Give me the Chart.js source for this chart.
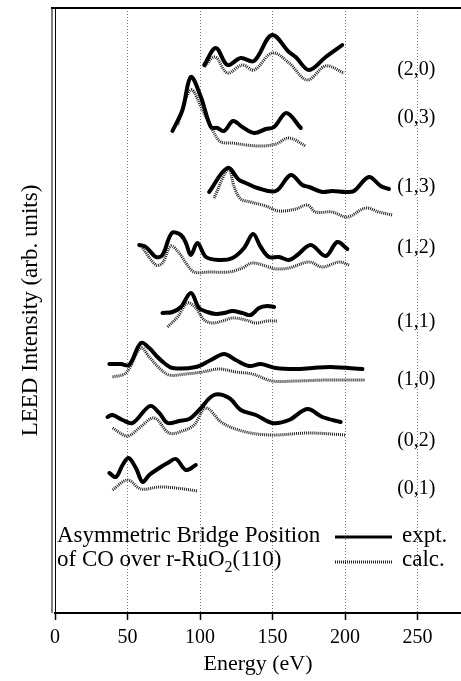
<!DOCTYPE html>
<html>
<head>
<meta charset="utf-8">
<script src="https://cdn.jsdelivr.net/npm/chart.js@4.4.0/dist/chart.umd.min.js"></script>
<style>
  html, body { margin: 0; padding: 0; background: #fff; }
</style>
</head>
<body>
<canvas id="leedChart" width="461" height="681"></canvas>
<script>
// LEED I(V) curves, energy in eV, intensity in arb. units (curves already stacked)
const beams = ["(2,0)", "(0,3)", "(1,3)", "(1,2)", "(1,1)", "(1,0)", "(0,2)", "(0,1)"];
const energyTicks = [0, 50, 100, 150, 200, 250];

const expt20 = [[102.9,548],[110.9,565],[118.9,548],[128.1,555],[137.3,552],[149.5,578],[161.4,561],[166.0,556],[175.2,543],[186.7,556],[198.1,568]];
const calc20 = [[102.9,546],[110.4,556],[118.9,540],[129.2,548],[137.3,543],[149.9,560],[161.4,550],[174.0,533],[186.7,547],[199.3,540]];

const expt03 = [[81.0,482],[87.9,503],[93.7,536],[100.6,516],[107.5,486],[112.0,485],[116.6,482],[122.8,492],[129.2,486],[137.3,480],[145.4,484],[151.1,486],[159.6,500],[169.5,485]];
const calc03 = [[84.5,488],[93.7,523],[101.7,503],[109.7,480],[114.4,471],[122.4,470],[131.6,468],[143.0,467],[152.3,469],[161.4,475],[172.9,467]];

const expt13 = [[106.3,421],[118.9,445],[127.0,433],[131.6,430],[139.6,425],[152.3,422],[162.6,438],[170.6,428],[175.2,426],[184.4,421],[191.2,422],[200.5,421],[206.2,422],[216.5,436],[224.6,427],[230.3,424]];
const calc13 = [[109.7,415],[119.6,444],[123.6,426],[128.1,414],[135.0,411],[145.4,407],[154.5,402],[166.0,404],[174.0,408],[179.8,401],[191.2,401],[201.6,396],[214.3,405],[223.4,401],[232.6,398]];

const expt12 = [[58.1,368],[62.7,366],[69.6,356],[74.1,358],[80.6,380],[86.8,378],[90.3,370],[93.7,358],[98.2,370],[104.1,356],[113.2,353],[122.4,355],[130.4,365],[136.6,379],[141.9,366],[147.6,356],[154.5,356],[161.4,353],[167.1,358],[176.4,368],[186.7,357],[194.7,371],[201.6,364]];
const calc12 = [[60.4,365],[69.6,348],[74.1,350],[79.9,367],[85.6,360],[90.3,350],[96.0,341],[106.3,341],[120.1,341],[129.2,345],[136.1,350],[147.6,346],[152.3,344],[161.4,345],[175.2,351],[184.4,346],[195.9,351],[202.8,348]];

const expt11 = [[74.1,300],[81.0,301],[86.8,306],[93.7,320],[99.4,305],[105.1,301],[110.9,299],[116.6,300],[122.4,302],[129.2,300],[135.0,298],[140.7,305],[146.5,307],[151.1,306]];
const calc11 = [[77.6,286],[84.5,296],[91.4,310],[97.1,305],[102.9,293],[108.6,290],[115.5,292],[122.4,295],[131.6,293],[138.5,290],[146.5,292],[153.4,292]];

const expt10 = [[37.5,249],[45.5,249],[51.2,248],[59.2,270],[65.0,265],[70.7,256],[75.3,250],[81.0,245],[97.1,246],[107.5,253],[116.6,259],[124.7,253],[133.9,247],[141.9,249],[152.3,245],[166.0,244],[177.5,245],[190.1,246],[212.0,244]];
const calc10 = [[39.7,236],[48.9,240],[59.2,265],[65.0,256],[71.9,245],[78.7,238],[90.3,239],[101.7,241],[113.2,244],[124.7,241],[136.1,239],[149.9,232],[166.0,232],[187.8,233],[214.0,233]];

const expt02 = [[36.2,196],[39.7,198],[46.6,193],[53.5,190],[65.5,207],[71.9,200],[77.6,190],[85.6,192],[92.5,194],[99.4,203],[109.7,218],[120.1,215],[128.1,203],[138.5,198],[149.9,190],[161.4,193],[174.0,204],[184.4,196],[197.0,191]];
const calc02 = [[39.7,185],[50.0,177],[58.1,185],[68.4,195],[78.7,180],[87.9,182],[95.9,188],[104.0,205],[115.5,190],[131.6,181],[149.9,178],[175.2,180],[200.5,178]];

const expt01 = [[37.5,140],[42.0,136],[46.6,148],[50.7,155],[55.8,145],[60.4,131],[65.0,138],[71.9,145],[77.6,150],[83.4,154],[90.3,143],[97.1,148]];
const calc01 = [[39.7,123],[50.0,133],[59.2,124],[71.9,126],[83.4,125],[98.3,122]];

// where each beam name sits (intensity units)
const labelLevels = [543, 495, 426, 365, 291, 233, 172, 124];

const exptSets = [expt20, expt03, expt13, expt12, expt11, expt10, expt02, expt01];
const calcSets = [calc20, calc03, calc13, calc12, calc11, calc10, calc02, calc01];

const serif = '"Liberation Serif", "Times New Roman", serif';

function toPoints(pairs) {
    return pairs.map(p => ({ x: p[0], y: p[1] }));
}

const datasets = [];
beams.forEach((b, i) => {
    datasets.push({
        label: b + " calc.",
        data: toPoints(calcSets[i]),
        borderColor: "#222",
        borderWidth: 3,
        borderDash: [1, 1],
        borderCapStyle: "butt",
        order: 2
    });
    datasets.push({
        label: b + " expt.",
        data: toPoints(exptSets[i]),
        borderColor: "#000",
        borderWidth: 4,
        borderCapStyle: "round",
        order: 1
    });
});

const decorPlugin = {
    id: "decor",
    afterDraw(chart) {
        const { ctx, chartArea, scales } = chart;
        ctx.save();
        // top frame + second line of the y axis
        ctx.strokeStyle = "#000";
        ctx.lineWidth = 2;
        ctx.beginPath();
        ctx.moveTo(chartArea.left - 4, chartArea.top);
        ctx.lineTo(chartArea.right, chartArea.top);
        ctx.stroke();
        ctx.lineWidth = 1;
        ctx.beginPath();
        ctx.moveTo(chartArea.left - 3, chartArea.top);
        ctx.lineTo(chartArea.left - 3, chartArea.bottom);
        ctx.stroke();

        // beam names
        ctx.fillStyle = "#000";
        ctx.font = "20px " + serif;
        ctx.textAlign = "left";
        ctx.textBaseline = "middle";
        beams.forEach((b, i) => {
            ctx.fillText(b, scales.x.getPixelForValue(236), scales.y.getPixelForValue(labelLevels[i]));
        });

        // legend block
        ctx.font = "23px " + serif;
        ctx.textBaseline = "alphabetic";
        ctx.fillText("Asymmetric Bridge Position", 57, 542);
        let x = 57;
        const part1 = "of CO over r-RuO";
        ctx.fillText(part1, x, 566);
        x += ctx.measureText(part1).width;
        ctx.font = "16px " + serif;
        ctx.fillText("2", x, 572);
        x += ctx.measureText("2").width;
        ctx.font = "23px " + serif;
        ctx.fillText("(110)", x, 566);
        ctx.fillText("expt.", 402, 542);
        ctx.fillText("calc.", 402, 566);

        ctx.strokeStyle = "#000";
        ctx.lineWidth = 3;
        ctx.beginPath();
        ctx.moveTo(335, 537);
        ctx.lineTo(392, 537);
        ctx.stroke();
        ctx.strokeStyle = "#222";
        ctx.setLineDash([1, 1]);
        ctx.beginPath();
        ctx.moveTo(335, 562);
        ctx.lineTo(392, 562);
        ctx.stroke();
        ctx.restore();
    }
};

new Chart(document.getElementById("leedChart"), {
    type: "line",
    data: { datasets: datasets },
    options: {
        responsive: false,
        animation: false,
        layout: { padding: { top: 8, left: 0, right: 0, bottom: 0 } },
        elements: {
            point: { radius: 0 },
            line: { tension: 0.35, borderJoinStyle: "round" }
        },
        plugins: {
            legend: { display: false },
            tooltip: { enabled: false }
        },
        scales: {
            x: {
                type: "linear",
                min: 0,
                max: 280,
                afterBuildTicks: scale => {
                    scale.ticks = energyTicks.map(v => ({ value: v }));
                },
                afterFit: scale => {
                    scale.height = 68;
                },
                grid: {
                    color: "#777",
                    lineWidth: 1,
                    tickLength: 7,
                    tickColor: "#000",
                    tickWidth: 1.5,
                    tickBorderDash: []
                },
                border: { display: true, color: "#000", width: 2, dash: [1, 2] },
                ticks: {
                    color: "#000",
                    padding: 6,
                    maxRotation: 0,
                    font: { family: serif, size: 20 }
                },
                title: {
                    display: true,
                    text: "Energy (eV)",
                    color: "#000",
                    font: { family: serif, size: 22 },
                    padding: { top: 0, bottom: 4 }
                }
            },
            y: {
                type: "linear",
                min: 0,
                max: 605,
                afterFit: scale => {
                    scale.width = 55;
                },
                grid: { display: false },
                border: { display: true, color: "#000", width: 1 },
                ticks: { display: false },
                title: {
                    display: true,
                    text: "LEED Intensity (arb. units)",
                    color: "#000",
                    font: { family: serif, size: 23 },
                    padding: { top: 17, bottom: 0 }
                }
            }
        }
    },
    plugins: [decorPlugin]
});
</script>
</body>
</html>
